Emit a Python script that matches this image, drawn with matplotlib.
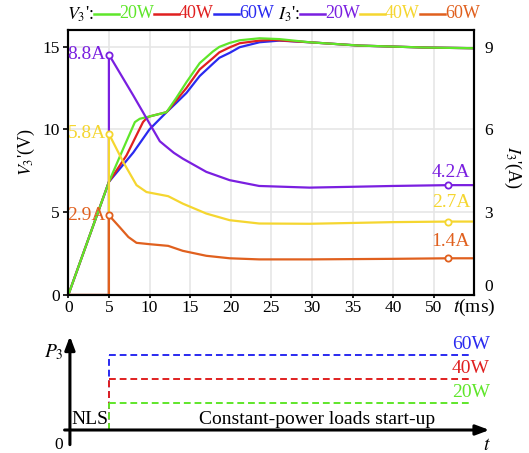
import matplotlib
matplotlib.use("Agg")
import matplotlib.pyplot as plt
from matplotlib.offsetbox import TextArea, DrawingArea, HPacker, AnchoredOffsetbox
from matplotlib.lines import Line2D

plt.rcParams['font.family'] = ['Liberation Serif', 'DejaVu Serif']
plt.rcParams['mathtext.fontset'] = 'stix'

# ---------------- data ----------------
# V3' (V) for constant-power loads 20W / 40W / 60W
t_v20 = [0, 5, 6.76, 8.2, 8.8, 10, 12.1, 13.3, 14.55, 16.18, 17.8, 18.6, 19.87, 21.1, 23.55, 26, 29.7, 35.8, 44, 50]
v20 = [0, 6.83, 8.83, 10.44, 10.64, 10.78, 11.04, 11.9, 12.85, 14.0, 14.7, 14.98, 15.22, 15.38, 15.5, 15.45, 15.26, 15.06, 14.94, 14.9]
t_v40 = [0, 5, 7.17, 9.2, 9.6, 10, 12.1, 13.3, 14.55, 16.18, 17.8, 18.6, 19.87, 21.1, 23.55, 25.2, 29.7, 35.8, 44, 50]
v40 = [0, 6.83, 8.43, 10.44, 10.66, 10.78, 11.04, 11.75, 12.5, 13.62, 14.3, 14.65, 14.95, 15.2, 15.36, 15.4, 15.26, 15.06, 14.94, 14.9]
t_v60 = [0, 5, 8, 10, 12.1, 13.3, 14.55, 16.18, 17.8, 18.6, 19.87, 21.1, 23.55, 26, 29.7, 35.8, 44, 50]
v60 = [0, 6.83, 8.6, 10.0, 11.04, 11.6, 12.2, 13.22, 13.96, 14.32, 14.62, 14.96, 15.26, 15.36, 15.26, 15.06, 14.94, 14.9]

# I3' (A)
t_i20 = [0, 5, 5, 8, 11.27, 11.88, 13, 14.1, 17, 19.87, 23.5, 29.7, 35, 40, 46.8, 50]
i20 = [0, 0, 8.71, 7.23, 5.57, 5.42, 5.15, 4.94, 4.46, 4.16, 3.95, 3.89, 3.92, 3.95, 3.98, 3.98]
t_i40 = [0, 5, 5, 6.76, 8.4, 9.63, 12.3, 14.1, 17, 19.87, 23.5, 29.7, 35, 40, 46.8, 50]
i40 = [0, 0, 5.84, 4.82, 3.98, 3.73, 3.58, 3.31, 2.95, 2.71, 2.59, 2.58, 2.61, 2.64, 2.66, 2.66]
t_i60 = [0, 5, 5, 6.35, 7.4, 8.4, 10.04, 12.3, 14.1, 17, 19.87, 23.5, 29.7, 40, 46.8, 50]
i60 = [0, 0, 2.89, 2.45, 2.1, 1.89, 1.84, 1.78, 1.6, 1.42, 1.33, 1.29, 1.29, 1.31, 1.33, 1.33]

peak_labels = ["8.8A", "5.8A", "2.9A"]
end_labels = ["4.2A", "2.7A", "1.4A"]
t_peak = 5
t_end = 46.8

x_ticks = [0, 5, 10, 15, 20, 25, 30, 35, 40, 45]
x_ticklabels = ["0", "5", "10", "15", "20", "25", "30", "35", "40", "50"]
yl_ticks = [0, 5, 10, 15]
yr_ticks = [0, 3, 6, 9]

powers = [20, 40, 60]
power_labels = ["20W", "40W", "60W"]

# styling
c_v = ['#5fe62a', '#e02020', '#2a2af0']
c_i = ['#7a1fe0', '#f5d630', '#e0601e']
end_label_offsets = [9, 13.7, 12.2]  # points above the line

W, H = 529, 453
fig = plt.figure(figsize=(W / 100, H / 100), dpi=100)

def px_ax(l, t, r, b):
    return fig.add_axes([l / W, 1 - b / H, (r - l) / W, (b - t) / H])

FS = 13
FS_T = 12.5
FS_A = 14

# ---------------- top panel ----------------
ax = px_ax(68.3, 30, 474.3, 295)
ax.set_xlim(0, 50)
ax.set_ylim(0, 16)
ax.set_xticks(x_ticks)
ax.set_xticklabels(x_ticklabels)
ax.set_yticks(yl_ticks)
ax.grid(True, color='#e6e6e6', lw=1.2)
ax.set_axisbelow(True)
ax.tick_params(axis='y', direction='out', length=3.5, width=1.2, pad=2.5, labelsize=FS_T)
ax.tick_params(axis='x', direction='out', length=2.5, width=1.2, pad=0.8, labelsize=FS_T)
for s in ax.spines.values():
    s.set_linewidth(1.5)

ax2 = ax.twinx()
ax2.set_ylim(0, 9.6)
ax2.set_yticks(yr_ticks)
ax2.tick_params(length=0, pad=7, labelsize=FS_T)
for s in ax2.spines.values():
    s.set_linewidth(1.5)
ax2.yaxis.get_major_ticks()[0].label2.set_va('bottom')

for tt, ii, c in zip([t_i20, t_i40, t_i60], [i20, i40, i60], c_i):
    ax2.plot(tt, ii, color=c, lw=1.6, solid_joinstyle='round')

for tt, vv, c in zip([t_v60, t_v40, t_v20], [v60, v40, v20], c_v[::-1]):
    ax.plot(tt, vv, color=c, lw=1.6, solid_joinstyle='round')

for tt, ii, c, pl, el, off in zip([t_i20, t_i40, t_i60], [i20, i40, i60], c_i,
                                  peak_labels, end_labels, end_label_offsets):
    pk = ii[2]
    ed = ii[tt.index(t_end)]
    ax2.plot([t_peak, t_end], [pk, ed], ls='none', marker='o', ms=4.5, mfc='white',
             mec=c, mew=1.3, zorder=5)
    ax2.annotate(pl, xy=(t_peak, pk), xytext=(-2, 0), textcoords='offset points',
                 ha='right', va='center', color=c, fontsize=FS_A)
    ax2.annotate(el, xy=(50, ed), xytext=(-3, off), textcoords='offset points',
                 ha='right', va='center', color=c, fontsize=FS_A)

ax.annotate(r"$t$(ms)", xy=(50, 0), xycoords=('data', 'axes fraction'),
            xytext=(0, -1.5), textcoords='offset points', ha='center', va='top',
            fontsize=FS_A, annotation_clip=False)

fig.text(26 / W, 1 - 152 / H, r"$V_3$'(V)", rotation=90, ha='center', va='center', fontsize=FS)
fig.text(513 / W, 1 - 167 / H, r"$I_3$'(A)", rotation=270, ha='center', va='center', fontsize=FS)

# legend row at top
def seg(color):
    da = DrawingArea(18, 8, 0, 0)
    da.add_artist(Line2D([0, 18], [4, 4], color=color, lw=1.8))
    return da

def txt(s, color='black'):
    return TextArea(s, textprops=dict(color=color, fontsize=FS))

items = [txt(r"$V_3$':")]
for c, lab in zip(c_v, power_labels):
    items += [seg(c), txt(lab, c)]
items += [txt(" "), txt(r"$I_3$':")]
for c, lab in zip(c_i, power_labels):
    items += [seg(c), txt(lab, c)]
pack = HPacker(children=items, align='center', pad=0, sep=0)
box = AnchoredOffsetbox(loc='center', child=pack, frameon=False, pad=0, borderpad=0,
                        bbox_to_anchor=(273.5 / W, 1 - 14 / H), bbox_transform=fig.transFigure)
fig.add_artist(box)

# ---------------- bottom panel ----------------
bx = px_ax(68.3, 330, 474.3, 453)
bx.set_xlim(0, 50)
bx.set_ylim(-(453 - 427) / 1.2, (427 - 330) / 1.2)
bx.axis('off')

y_axis = -2.5
bx.annotate('', xy=(52.2, y_axis), xytext=(-0.8, y_axis),
            arrowprops=dict(arrowstyle='-|>,head_length=0.8,head_width=0.3', lw=2.2, color='black'),
            annotation_clip=False)
bx.annotate('', xy=(0.2, 78), xytext=(0.2, -17),
            arrowprops=dict(arrowstyle='-|>,head_length=0.8,head_width=0.3', lw=2.2, color='black'),
            annotation_clip=False)

for p, c in zip(powers[::-1], c_v[::-1]):
    bx.plot([t_peak, t_peak], [y_axis, p], color=c, lw=1.4, ls=(0, (3.5, 2)))
for p, c, lab in zip(powers, c_v, power_labels):
    bx.plot([t_peak, 49.5], [p, p], color=c, lw=1.4, ls=(0, (3.5, 2)))
    bx.text(51.9, p + 9, lab, color=c, fontsize=FS_A, ha='right', va='center', clip_on=False)

bx.text(2.7, 6, "NLS", fontsize=FS_A, ha='center', va='center')
bx.text(30.6, 6, "Constant-power loads start-up", fontsize=FS_A, ha='center', va='center')
bx.text(-0.6, 62, r"$P_3$", fontsize=FS_A, ha='right', va='center', clip_on=False)
bx.text(-0.7, -15, "0", fontsize=FS_T, ha='right', va='center', clip_on=False)
bx.text(51.5, -15, r"$t$", fontsize=FS_A, ha='center', va='center', clip_on=False)

fig.savefig("out.png", dpi=100)
